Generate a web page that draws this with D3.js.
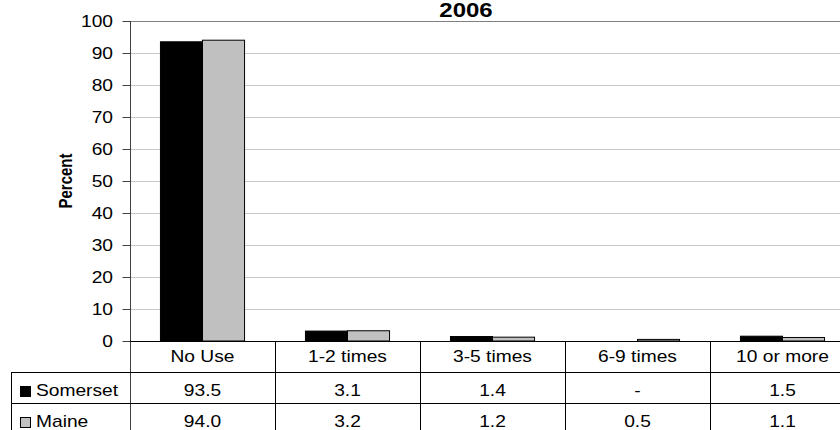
<!DOCTYPE html>
<html>
<head>
<meta charset="utf-8">
<script src="https://cdn.jsdelivr.net/npm/d3@7"></script>
<style>
  html, body { margin: 0; padding: 0; background: #fff; }
  svg { display: block; font-family: "Liberation Sans", Arial, sans-serif; }
</style>
</head>
<body>
<svg id="chart" width="840" height="430"></svg>
<script>
const title = "2006";
const yAxisLabel = "Percent";
const categories = ["No Use", "1-2 times", "3-5 times", "6-9 times", "10 or more"];
const seriesNames = ["Somerset", "Maine"];
const somerset = [93.5, 3.1, 1.4, null, 1.5];
const maine = [94.0, 3.2, 1.2, 0.5, 1.1];
const yTicks = [0, 10, 20, 30, 40, 50, 60, 70, 80, 90, 100];
const seriesColors = ["#000000", "#c0c0c0"];

const seriesValues = [somerset, maine];
const SX = 1.2; // horizontal text stretch of the original picture

const svg = d3.select("#chart");
const plotLeft = 130, plotRight = 855, plotTop = 21, plotBase = 341;
const rowTops = [341, 372, 403, 434];
const legendLeft = 11;

const x0 = d3.scaleBand().domain(categories).range([plotLeft, plotRight]).padding(0);
const groupW = x0.bandwidth() * 0.58;
const x1 = d3.scaleBand().domain(seriesNames)
  .range([(x0.bandwidth() - groupW) / 2, (x0.bandwidth() + groupW) / 2]).padding(0);
const y = d3.scaleLinear().domain([0, 100]).range([plotBase, plotTop]);

function stext(g, x, yy, str, opts = {}) {
  return g.append("text")
    .attr("transform", `translate(${x},${yy}) scale(${SX},1)` + (opts.rotate ? ` rotate(${opts.rotate})` : ""))
    .attr("font-size", opts.size || 16)
    .attr("font-weight", opts.weight || "normal")
    .attr("text-anchor", opts.anchor || "middle")
    .attr("fill", "#000")
    .text(str);
}

// gridlines
svg.append("g").selectAll("line").data(yTicks.filter(d => d > 0 && d < 100)).join("line")
  .attr("x1", plotLeft).attr("x2", 840)
  .attr("y1", d => Math.round(y(d)) + 0.5).attr("y2", d => Math.round(y(d)) + 0.5)
  .attr("stroke", "#c8c8c8").attr("stroke-width", 1);
svg.append("line").attr("x1", plotLeft).attr("x2", 840)
  .attr("y1", Math.round(y(100)) + 0.5).attr("y2", Math.round(y(100)) + 0.5)
  .attr("stroke", "#808080");

// bars
const data = [];
categories.forEach((c, i) => seriesNames.forEach((s, j) => {
  if (seriesValues[j][i] != null) data.push({ c, s, v: seriesValues[j][i], j });
}));
svg.append("g").selectAll("rect").data(data).join("rect")
  .attr("x", d => x0(d.c) + x1(d.s))
  .attr("y", d => y(d.v))
  .attr("width", x1.bandwidth())
  .attr("height", d => plotBase - y(d.v))
  .attr("fill", d => seriesColors[d.j])
  .attr("stroke", "#000").attr("stroke-width", 1);

// y axis
const yAxis = d3.axisLeft(y).tickValues(yTicks).tickSize(8).tickPadding(9).tickFormat(d3.format("d"));
const ax = svg.append("g").attr("transform", `translate(${plotLeft + 0.5},0)`).call(yAxis);
ax.select(".domain").remove();
ax.selectAll(".tick line").attr("stroke", "#404040");
ax.selectAll(".tick text").remove();
yTicks.forEach(t => stext(svg, 113, y(t) + 6, String(t), { anchor: "end" }));
svg.append("line").attr("x1", plotLeft + 0.5).attr("x2", plotLeft + 0.5).attr("y1", plotTop).attr("y2", 430)
  .attr("stroke", "#404040");

// title & axis label
stext(svg, 466, 17, title, { size: 20, weight: "bold" });
stext(svg, 72, 181, yAxisLabel, { size: 15, weight: "bold", rotate: -90 });

// data table
const tg = svg.append("g");
tg.append("line").attr("x1", plotLeft).attr("x2", 840).attr("y1", plotBase + 0.5).attr("y2", plotBase + 0.5).attr("stroke", "#000");
[rowTops[1], rowTops[2]].forEach(r => tg.append("line").attr("x1", legendLeft).attr("x2", 840)
  .attr("y1", r + 0.5).attr("y2", r + 0.5).attr("stroke", "#000"));
tg.append("line").attr("x1", legendLeft + 0.5).attr("x2", legendLeft + 0.5)
  .attr("y1", rowTops[1]).attr("y2", 430).attr("stroke", "#000");
categories.slice(1).forEach(c => tg.append("line")
  .attr("x1", Math.round(x0(c)) + 0.5).attr("x2", Math.round(x0(c)) + 0.5)
  .attr("y1", plotBase).attr("y2", 430).attr("stroke", "#000"));

categories.forEach(c => stext(tg, x0(c) + x0.bandwidth() / 2, 362, c));
seriesNames.forEach((s, j) => {
  const rt = rowTops[j + 1];
  tg.append("rect").attr("x", 20.5).attr("y", rt + 14.5).attr("width", 10).attr("height", 10)
    .attr("fill", seriesColors[j]).attr("stroke", "#000");
  stext(tg, 36, rt + 24, s, { anchor: "start" });
  categories.forEach((c, i) => {
    const v = seriesValues[j][i];
    stext(tg, x0(c) + x0.bandwidth() / 2, rt + 24, v == null ? "-" : v.toFixed(1));
  });
});
</script>
</body>
</html>
